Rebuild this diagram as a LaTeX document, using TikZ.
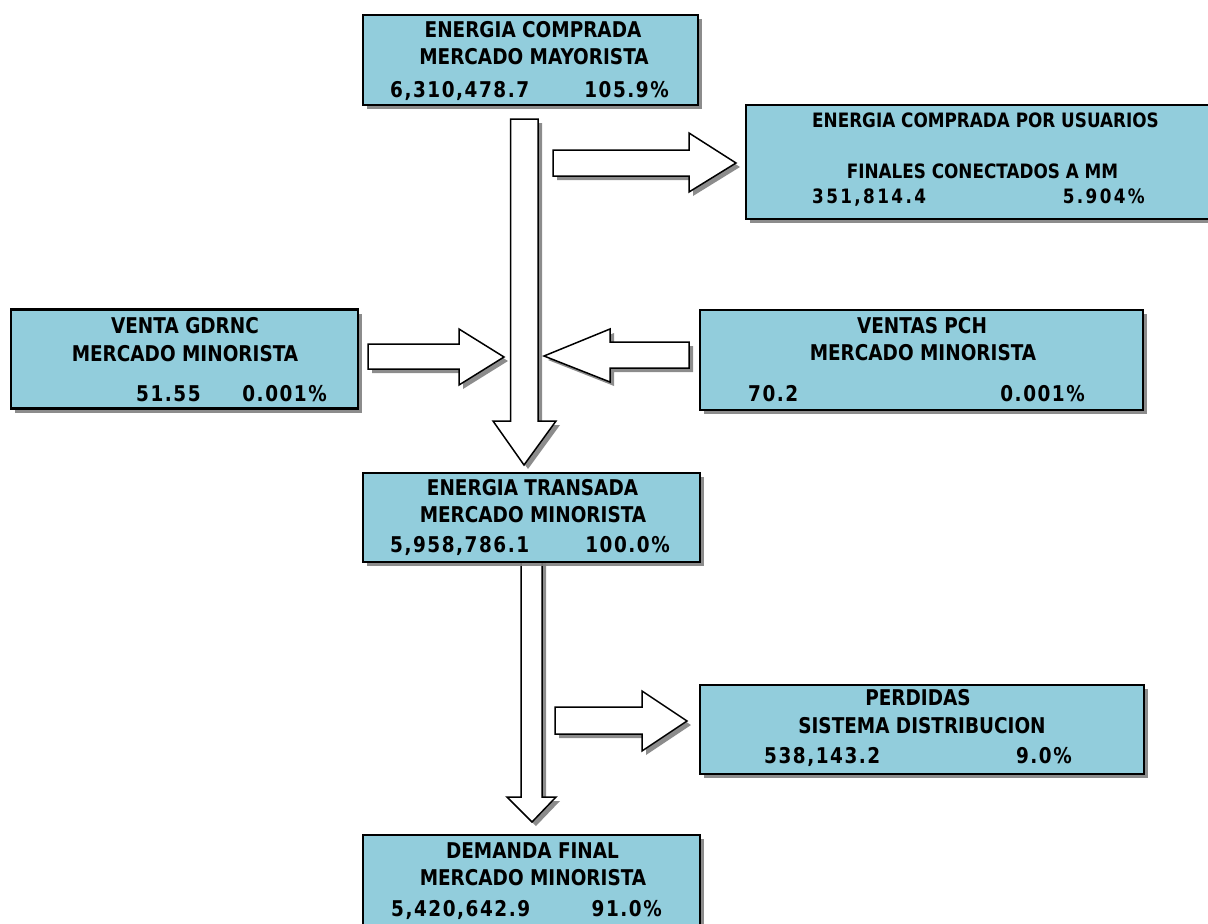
\documentclass[tikz,border=0pt]{standalone}
\usepackage{fontspec}
\setmainfont{DejaVu Sans}[FakeStretch=0.85]
\usetikzlibrary{shadows}
\definecolor{boxblue}{RGB}{146,205,220}
\tikzset{
  box/.style={draw=black, line width=2.4pt, fill=boxblue, inner sep=0pt,
    drop shadow={shadow xshift=4pt, shadow yshift=-4pt, fill=black!50, opacity=0.9}},
  blockarrow/.style={draw=black, line width=1.5pt, fill=white, line join=miter,
    drop shadow={shadow xshift=4pt, shadow yshift=-4pt, fill=black!50, opacity=0.9}},
  txt/.style={inner sep=0pt, anchor=base, font=\bfseries\fontsize{21.7}{26}\selectfont},
  txts/.style={inner sep=0pt, anchor=base, font=\bfseries\fontsize{19.8}{24}\selectfont},
  numl/.style={txt, anchor=base west, font=\bfseries\fontsize{21.7}{26}\selectfont\addfontfeature{LetterSpace=7}},
  numr/.style={txt, anchor=base east, font=\bfseries\fontsize{21.7}{26}\selectfont\addfontfeature{LetterSpace=7}},
  numls/.style={txt, anchor=base west, font=\bfseries\fontsize{19.8}{24}\selectfont\addfontfeature{LetterSpace=12}},
  numrs/.style={txt, anchor=base east, font=\bfseries\fontsize{19.8}{24}\selectfont\addfontfeature{LetterSpace=12}},
}
\begin{document}
\begin{tikzpicture}[x=1pt, y=-1pt]
\useasboundingbox (0,0) rectangle (1208,924);

% block arrows
\draw[blockarrow] (510.5,119) -- (538,119) -- (538,421) -- (556,421) -- (524,465) -- (493,421) -- (510.5,421) -- cycle;
\draw[blockarrow] (553,150) -- (689,150) -- (689,133) -- (736,163) -- (689,192) -- (689,176) -- (553,176) -- cycle;
\draw[blockarrow] (368,344) -- (459,344) -- (459,329) -- (504,357) -- (459,385) -- (459,369) -- (368,369) -- cycle;
\draw[blockarrow] (689,342) -- (610,342) -- (610,329) -- (544,356) -- (610,382) -- (610,368) -- (689,368) -- cycle;
\draw[blockarrow] (521,556) -- (542,556) -- (542,797) -- (556,797) -- (532,822) -- (507,797) -- (521,797) -- cycle;
\draw[blockarrow] (555,707) -- (642,707) -- (642,691) -- (687,721) -- (642,751) -- (642,734) -- (555,734) -- cycle;

% boxes
\node[box, minimum width=335pt, minimum height=90pt] (b1) at (530.5,60) {};
\node[box, minimum width=470pt, minimum height=114pt] (b2) at (981,162) {};
\node[box, minimum width=347pt, minimum height=99pt] (b3) at (184.5,359) {};
\node[box, minimum width=443pt, minimum height=100pt] (b4) at (921.5,360) {};
\node[box, minimum width=337pt, minimum height=89pt] (b5) at (531.5,517.5) {};
\node[box, minimum width=444pt, minimum height=89pt] (b6) at (922,729.5) {};
\node[box, minimum width=337pt, minimum height=105pt] (b7) at (531.5,887.5) {};

% texts
\node[txt] (t11) at (533,37) {ENERGIA COMPRADA};
\node[txt] (t12) at (534,64) {MERCADO MAYORISTA};
\node[numl] (t13) at (390,97) {6,310,478.7};
\node[numr] (t14) at (669,97) {105.9\%};

\node[txts] (t21) at (985.5,127) {ENERGIA COMPRADA POR USUARIOS};
\node[txts] (t22) at (982.5,178) {FINALES CONECTADOS A MM};
\node[numls] (t23) at (812,203) {351,814.4};
\node[numrs] (t24) at (1145,203) {5.904\%};

\node[txt] (t31) at (185,333) {VENTA GDRNC};
\node[txt] (t32) at (185,361) {MERCADO MINORISTA};
\node[numl] (t33) at (136,401) {51.55};
\node[numr] (t34) at (327,401) {0.001\%};

\node[txt] (t41) at (922,333) {VENTAS PCH};
\node[txt] (t42) at (923,360) {MERCADO MINORISTA};
\node[numl] (t43) at (748,401) {70.2};
\node[numr] (t44) at (1085,401) {0.001\%};

\node[txt] (t51) at (532.5,495) {ENERGIA TRANSADA};
\node[txt] (t52) at (533,522) {MERCADO MINORISTA};
\node[numl] (t53) at (390,552) {5,958,786.1};
\node[numr] (t54) at (670,552) {100.0\%};

\node[txt] (t61) at (918,705) {PERDIDAS};
\node[txt] (t62) at (922,733) {SISTEMA DISTRIBUCION};
\node[numl] (t63) at (764,763) {538,143.2};
\node[numr] (t64) at (1072,763) {9.0\%};

\node[txt] (t71) at (532.5,858) {DEMANDA FINAL};
\node[txt] (t72) at (533,885) {MERCADO MINORISTA};
\node[numl] (t73) at (391,916) {5,420,642.9};
\node[numr] (t74) at (662,916) {91.0\%};
\end{tikzpicture}
\end{document}
